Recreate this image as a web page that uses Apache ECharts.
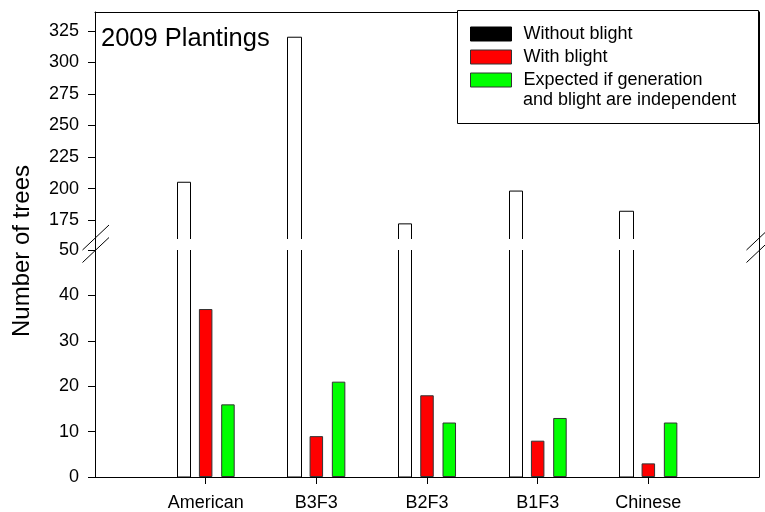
<!DOCTYPE html>
<html>
<head>
<meta charset="utf-8">
<script src="https://cdn.jsdelivr.net/npm/echarts@6/dist/echarts.min.js"></script>
<style>
  html, body { margin: 0; padding: 0; background: #fff; }
  #chart { width: 765px; height: 512px; }
</style>
</head>
<body>
<div id="chart"></div>
<script>
// data
const categories = ['American', 'B3F3', 'B2F3', 'B1F3', 'Chinese']
const withoutBlight = [205, 320, 172, 198, 182]
const withBlight = [37, 9, 18, 8, 3]
const expected = [16, 21, 12, 13, 12]
const upperTicks = [175, 200, 225, 250, 275, 300, 325]
const lowerTicks = [0, 10, 20, 30, 40, 50]

const NAME_WO = 'Without blight'
const NAME_W = 'With blight'
const NAME_EXP = 'Expected if generation and blight are independent'

const FONT = 'Liberation Sans, Arial, sans-serif'
const FS = 18
const UP_MIN = 160, UP_MAX = 340
const LO_MIN = 0, LO_MAX = 50
const BAR_W = 13.5
const BAR_GAP = 0.65

// empty slot at each end so the five groups sit on ticks 1..5 of 6 bands
const xData = [''].concat(categories, [''])
const pad = (arr) => [null].concat(arr, [null])
const whiteOffset = -(BAR_W + BAR_W * BAR_GAP)
const crisp = (v) => Math.round(v) + 0.5

// white bars are drawn as outlines, left open where the axis is broken
const outline = (upper) => (params, api) => {
  const idx = api.value(0)
  const val = api.value(1)
  const cx = api.coord([idx, val])[0] + whiteOffset
  const xl = crisp(cx - BAR_W / 2)
  const xr = crisp(cx + BAR_W / 2)
  let points
  if (upper) {
    const top = api.coord([idx, Math.min(val, UP_MAX)])[1]
    const base = api.coord([idx, UP_MIN])[1]
    points = [[xl, base], [xl, top], [xr, top], [xr, base]]
  } else {
    const top = api.coord([idx, Math.min(val, LO_MAX)])[1]
    const base = api.coord([idx, LO_MIN])[1]
    points = val > LO_MAX
      ? [[xl, top], [xl, base], [xr, base], [xr, top]]
      : [[xl, base], [xl, top], [xr, top], [xr, base]]
  }
  return {
    type: 'polyline',
    shape: { points: points },
    style: { stroke: '#000', lineWidth: 1, fill: 'none' }
  }
}

const axisLine = { show: true, lineStyle: { color: '#000', width: 1 } }
const labelStyle = { color: '#000', fontSize: FS, fontFamily: FONT }

const chart = echarts.init(document.getElementById('chart'))

const option = {
  animation: false,
  backgroundColor: '#fff',
  grid: [
    { left: 95, top: 12, width: 664, height: 227 },
    { left: 95, top: 250, width: 664, height: 227 }
  ],
  xAxis: [
    {
      gridIndex: 0, type: 'category', data: xData, boundaryGap: false, position: 'top',
      axisLine: axisLine, axisTick: { show: false }, axisLabel: { show: false }, splitLine: { show: false }
    },
    {
      gridIndex: 1, type: 'category', data: xData, boundaryGap: false, position: 'bottom',
      axisLine: axisLine,
      axisTick: { show: true, length: 7, interval: (i, v) => v !== '', lineStyle: { color: '#000' } },
      axisLabel: Object.assign({ margin: 17, interval: 0 }, labelStyle),
      splitLine: { show: false }
    }
  ],
  yAxis: [
    {
      gridIndex: 0, type: 'value', min: UP_MIN, max: UP_MAX, position: 'left',
      axisLine: axisLine,
      axisTick: { show: true, length: 7, customValues: upperTicks, lineStyle: { color: '#000' } },
      axisLabel: Object.assign({ margin: 16, customValues: upperTicks }, labelStyle),
      splitLine: { show: false }
    },
    {
      gridIndex: 0, type: 'value', min: UP_MIN, max: UP_MAX, position: 'right',
      axisLine: axisLine, axisTick: { show: false }, axisLabel: { show: false }, splitLine: { show: false }
    },
    {
      gridIndex: 1, type: 'value', min: LO_MIN, max: LO_MAX, interval: 10, position: 'left',
      axisLine: axisLine,
      axisTick: { show: true, length: 7, lineStyle: { color: '#000' } },
      axisLabel: Object.assign({ margin: 16 }, labelStyle),
      splitLine: { show: false }
    },
    {
      gridIndex: 1, type: 'value', min: LO_MIN, max: LO_MAX, position: 'right',
      axisLine: axisLine, axisTick: { show: false }, axisLabel: { show: false }, splitLine: { show: false }
    }
  ],
  legend: {
    orient: 'vertical',
    left: 470,
    top: 24,
    padding: 0,
    z: 20,
    icon: 'rect',
    itemWidth: 41,
    itemHeight: 14,
    itemGap: 3,
    selectedMode: false,
    textStyle: { color: '#000', fontSize: FS, fontFamily: FONT, lineHeight: 20, padding: [0, 0, 0, 7] },
    formatter: (name) => (name === NAME_EXP ? 'Expected if generation' : name),
    data: [
      { name: NAME_WO, itemStyle: { color: '#000', borderColor: '#000', borderWidth: 1 } },
      { name: NAME_W, itemStyle: { color: '#ff0000', borderColor: '#333', borderWidth: 1 } },
      { name: NAME_EXP, itemStyle: { color: '#00ff00', borderColor: '#333', borderWidth: 1 } }
    ]
  },
  series: [
    {
      name: NAME_WO, type: 'custom', xAxisIndex: 0, yAxisIndex: 0, silent: true,
      renderItem: outline(true),
      data: withoutBlight.map((v, i) => [i + 1, v])
    },
    {
      name: NAME_WO, type: 'custom', xAxisIndex: 1, yAxisIndex: 2, silent: true, z: 3,
      renderItem: outline(false),
      data: withoutBlight.map((v, i) => [i + 1, v])
    },
    // invisible slot so red/green sit in the right places
    {
      name: NAME_WO, type: 'bar', xAxisIndex: 1, yAxisIndex: 2, silent: true,
      barWidth: BAR_W, barGap: BAR_GAP * 100 + '%',
      itemStyle: { color: 'rgba(0,0,0,0)' },
      data: pad(withoutBlight)
    },
    {
      name: NAME_W, type: 'bar', xAxisIndex: 1, yAxisIndex: 2,
      barWidth: BAR_W, barGap: BAR_GAP * 100 + '%',
      itemStyle: { color: '#ff0000', borderColor: '#333', borderWidth: 1 },
      data: pad(withBlight)
    },
    {
      name: NAME_EXP, type: 'bar', xAxisIndex: 1, yAxisIndex: 2,
      barWidth: BAR_W, barGap: BAR_GAP * 100 + '%',
      itemStyle: { color: '#00ff00', borderColor: '#333', borderWidth: 1 },
      data: pad(expected)
    }
  ],
  graphic: [
    {
      type: 'rect', z: 10,
      shape: { x: 457.5, y: 10.5, width: 301, height: 113 },
      style: { fill: '#fff', stroke: '#000', lineWidth: 1 }
    },
    {
      type: 'text', z: 21, x: 523, y: 100,
      style: { text: 'and blight are independent', fill: '#000', fontSize: FS, fontFamily: FONT, verticalAlign: 'middle' }
    },
    {
      type: 'text', z: 5, x: 101, y: 38.5,
      style: { text: '2009 Plantings', fill: '#000', fontSize: 25.5, fontFamily: FONT, verticalAlign: 'middle' }
    },
    {
      type: 'text', z: 5, x: 22, y: 251, rotation: Math.PI / 2,
      style: { text: 'Number of trees', fill: '#000', fontSize: 24, fontFamily: FONT, align: 'center', verticalAlign: 'middle' }
    },
    // axis lines carried across the break
    { type: 'line', z: 5, shape: { x1: 95.5, y1: 239, x2: 95.5, y2: 250 }, style: { stroke: '#000', lineWidth: 1 } },
    { type: 'line', z: 5, shape: { x1: 759.5, y1: 239, x2: 759.5, y2: 250 }, style: { stroke: '#000', lineWidth: 1 } },
    // break marks
    { type: 'line', z: 6, shape: { x1: 82.5, y1: 250, x2: 109, y2: 225 }, style: { stroke: '#000', lineWidth: 1 } },
    { type: 'line', z: 6, shape: { x1: 82.5, y1: 262.5, x2: 109, y2: 237.5 }, style: { stroke: '#000', lineWidth: 1 } },
    { type: 'line', z: 6, shape: { x1: 746.5, y1: 250, x2: 773, y2: 225 }, style: { stroke: '#000', lineWidth: 1 } },
    { type: 'line', z: 6, shape: { x1: 746.5, y1: 262.5, x2: 773, y2: 237.5 }, style: { stroke: '#000', lineWidth: 1 } }
  ]
}

chart.setOption(option)
</script>
</body>
</html>
